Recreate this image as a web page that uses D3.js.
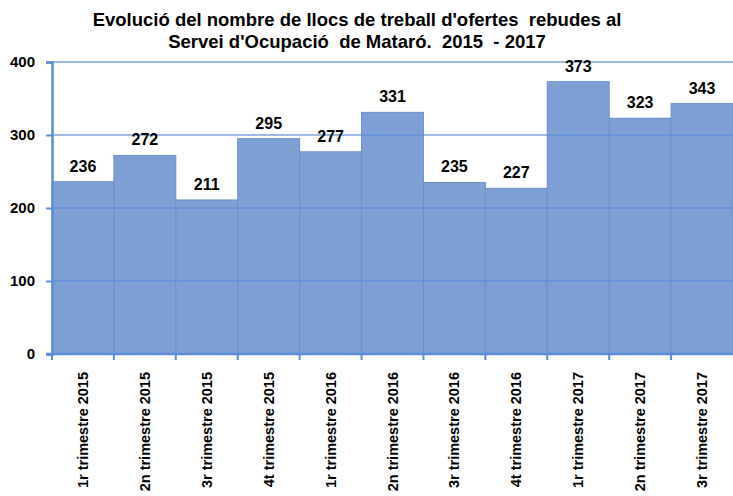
<!DOCTYPE html>
<html>
<head>
<meta charset="utf-8">
<script src="https://cdn.jsdelivr.net/npm/d3@7"></script>
<style>
  body { margin: 0; background: #fff; }
  svg { display: block; font-family: "Liberation Sans", Arial, sans-serif; }
</style>
</head>
<body>
<script>
'use strict';

const titleLines = ["Evolució del nombre de llocs de treball d'ofertes  rebudes al",
                    "Servei d'Ocupació  de Mataró.  2015  - 2017"];
const quarters = ['1r trimestre 2015', '2n trimestre 2015', '3r trimestre 2015', '4t trimestre 2015',
                  '1r trimestre 2016', '2n trimestre 2016', '3r trimestre 2016', '4t trimestre 2016',
                  '1r trimestre 2017', '2n trimestre 2017', '3r trimestre 2017'];
const offers = [236, 272, 211, 295, 277, 331, 235, 227, 373, 323, 343];
const yTicks = [0, 100, 200, 300, 400];

const width = 733, height = 496;
const margin = { top: 62, right: 0, bottom: 142, left: 52 };

const svg = d3.select('body').append('svg')
  .attr('width', width)
  .attr('height', height);

// scales
const x = d3.scaleBand()
  .domain(quarters)
  .range([margin.left, width - margin.right])
  .padding(0);

const y = d3.scaleLinear()
  .domain([0, 400])
  .range([height - margin.bottom, margin.top]);

// title
svg.selectAll('.title')
  .data(titleLines)
  .enter()
  .append('text')
    .attr('x', 357)
    .attr('y', (d, i) => 26 + i * 22)
    .attr('text-anchor', 'middle')
    .attr('xml:space', 'preserve')
    .style('font-size', '18.5px')
    .style('font-weight', 'bold')
    .style('white-space', 'pre')
    .text(d => d);

// bars
svg.selectAll('.bar')
  .data(offers)
  .enter()
  .append('rect')
    .attr('x', (d, i) => x(quarters[i]))
    .attr('y', d => y(d))
    .attr('width', x.bandwidth())
    .attr('height', d => y(0) - y(d))
    .attr('fill', '#7ca0d4')
    .attr('stroke', '#6891cb')
    .attr('stroke-width', 1);

// gridlines over the bars
svg.selectAll('.grid')
  .data(yTicks.slice(1))
  .enter()
  .append('line')
    .attr('x1', margin.left)
    .attr('x2', width)
    .attr('y1', d => y(d))
    .attr('y2', d => y(d))
    .attr('stroke', '#5b8dd6')
    .attr('stroke-opacity', 0.8)
    .attr('stroke-width', 1.5);

// y axis
const yAxis = svg.append('g')
  .attr('transform', `translate(${margin.left}, 0)`)
  .call(d3.axisLeft(y).tickValues(yTicks).tickSize(6).tickPadding(11));
yAxis.select('.domain').attr('stroke', '#5b8dd6').attr('stroke-width', 2.5);
yAxis.selectAll('.tick line').attr('stroke', '#5b8dd6').attr('stroke-width', 2);
yAxis.selectAll('.tick text')
  .attr('fill', '#000')
  .style('font-size', '15px')
  .style('font-weight', 'bold')
  .style('font-family', '"Liberation Sans", Arial, sans-serif');

// x axis with tick marks at the bar edges
const xAxis = svg.append('g')
  .attr('transform', `translate(0, ${y(0)})`);
xAxis.append('line')
  .attr('x1', margin.left - 6)
  .attr('x2', width)
  .attr('stroke', '#5b8dd6')
  .attr('stroke-width', 2.5);
xAxis.selectAll('.edge')
  .data(quarters)
  .enter()
  .append('line')
    .attr('x1', d => x(d))
    .attr('x2', d => x(d))
    .attr('y1', 0)
    .attr('y2', 6)
    .attr('stroke', '#5b8dd6')
    .attr('stroke-width', 2);

// rotated category labels
xAxis.selectAll('.xlabel')
  .data(quarters)
  .enter()
  .append('text')
    .attr('transform', d => `translate(${x(d) + x.bandwidth() / 2 + 5}, 18)rotate(-90)`)
    .attr('text-anchor', 'end')
    .style('font-size', '14.5px')
    .style('font-weight', 'bold')
    .text(d => d);

// value labels
svg.selectAll('.value')
  .data(offers)
  .enter()
  .append('text')
    .attr('x', (d, i) => x(quarters[i]) + x.bandwidth() / 2)
    .attr('y', d => y(d) - 10)
    .attr('text-anchor', 'middle')
    .style('font-size', '16px')
    .style('font-weight', 'bold')
    .text(d => d);
</script>
</body>
</html>
